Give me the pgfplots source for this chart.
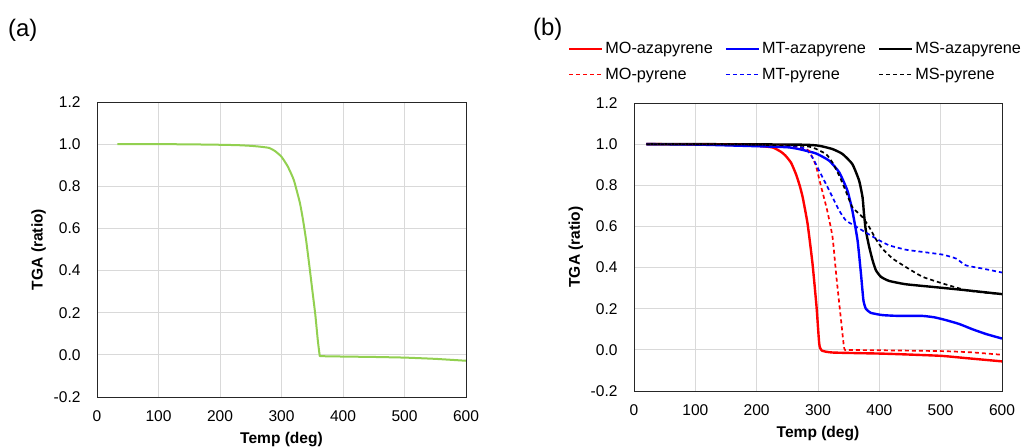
\documentclass[border=0pt]{standalone}
\usepackage{fontspec}
\setmainfont{Liberation Sans}
\usepackage{pgfplots}
\pgfplotsset{compat=1.18}

\definecolor{tgagreen}{HTML}{92D050}

\pgfplotsset{
  tga/.style={
    scale only axis,
    anchor=south west,
    xmin=0, xmax=600, ymin=-0.2, ymax=1.2,
    xtick={0,100,200,300,400,500,600},
    ytick={-0.2,0,0.2,0.4,0.6,0.8,1.0,1.2},
    major tick length=0pt,
    grid=major,
    grid style={black!15, line width=0.9bp},
    axis line style={black!85, line width=0.9bp},
    /pgf/number format/assume math mode=true,
    tick label style={font=\fontsize{15.6}{18}\selectfont},
    yticklabel style={/pgf/number format/.cd, fixed, fixed zerofill, precision=1, /tikz/.cd, anchor=east, xshift=-13bp},
    xticklabel style={yshift=-10.5bp},
    xlabel={Temp (deg)},
    ylabel={TGA (ratio)},
    every axis x label/.style={at={(axis description cs:0.5,0)}, anchor=center, yshift=-43bp,
      font=\fontsize{15.6}{18}\selectfont\bfseries},
    every axis y label/.style={at={(axis description cs:-0.158,0.5)}, anchor=center, rotate=90,
      font=\fontsize{15.6}{18}\selectfont\bfseries},
    every axis plot/.append style={line join=round},
  },
  sol/.style={line width=2.4bp},
  dsh/.style={line width=1.7bp, dash pattern=on 4bp off 3bp},
}

\begin{document}
\begin{tikzpicture}
\path[use as bounding box] (0,0) rectangle (1024bp,447bp);

\node[anchor=west, inner sep=0pt, font=\fontsize{24}{28}\selectfont] at (8bp,417bp) {(a)};
\node[anchor=west, inner sep=0pt, font=\fontsize{24}{28}\selectfont] at (533bp,418bp) {(b)};

% panel (a)
\begin{axis}[tga, at={(97bp,50bp)}, width=369bp, height=295bp]
\addplot[tgagreen, line width=2bp, smooth, tension=0.3] coordinates {
(33,1.0) (100,1.0) (150,0.999) (200,0.997) (230,0.995) (250,0.992) (265,0.988)
(280,0.982) (290,0.966) (300,0.94) (310,0.895) (320,0.83) (330,0.72) (335,0.64)
(340,0.545) (345,0.43) (350,0.31) (355,0.19) (359,0.07) (362,0.0) (364,-0.006)
(400,-0.008) (450,-0.01) (500,-0.013) (550,-0.019) (600,-0.028)
};
\end{axis}

% panel (b)
\begin{axis}[tga, at={(634bp,56bp)}, width=368bp, height=288bp,
  legend columns=3,
  legend style={at={(axis description cs:-0.188,1.225)}, anchor=north west,
    draw=none, fill=none, font=\fontsize{16.3}{19}\selectfont,
    /tikz/every even column/.append style={column sep=10bp},
    row sep=9bp},
  legend cell align=left,
  legend image code/.code={\draw[#1] (0bp,0bp) -- (33bp,0bp);},
]
\addplot[red, sol, smooth, tension=0.3] coordinates {
(20,1.0) (100,0.999) (150,0.997) (200,0.992) (226,0.984) (240,0.962) (247,0.944)
(256,0.91) (264,0.855) (270,0.8) (275,0.742) (283,0.613) (291,0.42) (297.6,0.21)
(302,0.03) (306,-0.003) (324,-0.013) (400,-0.018) (432,-0.021) (500,-0.029)
(541,-0.04) (600,-0.056)
};
\addlegendentry{MO-azapyrene}
\addplot[blue, sol, smooth, tension=0.3] coordinates {
(20,1.0) (100,0.998) (200,0.99) (250,0.985) (269,0.976) (296.5,0.955) (318,0.92)
(334.6,0.863) (348,0.774) (356,0.677) (364.5,0.532) (370,0.371) (374,0.242)
(378,0.2) (386,0.18) (405,0.169) (432,0.165) (470,0.165) (490,0.158) (508,0.145)
(530,0.126) (552,0.1) (574,0.077) (600,0.055)
};
\addlegendentry{MT-azapyrene}
\addplot[black, sol, smooth, tension=0.3] coordinates {
(20,1.0) (100,1.0) (200,0.999) (280,0.997) (302,0.992) (323.7,0.976) (340,0.952)
(356,0.903) (367,0.823) (372.6,0.742) (375,0.661) (378,0.58) (383.5,0.5)
(389,0.435) (394.4,0.387) (402.6,0.355) (416,0.335) (443,0.319) (487,0.306)
(541,0.29) (600,0.271)
};
\addlegendentry{MS-azapyrene}
\addplot[red, dsh, smooth, tension=0.3] coordinates {
(20,1.0) (100,1.0) (200,0.997) (250,0.993) (270,0.985) (285,0.968) (296,0.9)
(304,0.806) (315,0.677) (323.7,0.548) (330,0.355) (337,0.16) (342.7,0.008)
(348,0.0) (400,-0.002) (500,-0.006) (550,-0.012) (600,-0.024)
};
\addlegendentry{MO-pyrene}
\addplot[blue, dsh, smooth, tension=0.3] coordinates {
(20,1.0) (100,0.998) (200,0.993) (260,0.99) (280,0.976) (291,0.935) (302,0.87)
(313,0.806) (323.7,0.742) (334.6,0.677) (345.4,0.629) (359,0.605) (372.6,0.58)
(386,0.556) (400,0.532) (416,0.508) (443,0.487) (470.6,0.476) (503,0.463)
(525,0.444) (541,0.411) (568.5,0.395) (600,0.376)
};
\addlegendentry{MT-pyrene}
\addplot[black, dsh, smooth, tension=0.3] coordinates {
(20,1.0) (100,1.0) (200,0.997) (270,0.993) (291,0.984) (313,0.952) (323.7,0.91)
(334.6,0.847) (345,0.774) (356,0.694) (372.6,0.645) (383.5,0.597) (394,0.54)
(405,0.492) (421.6,0.444) (443,0.403) (470.6,0.355) (503,0.323) (541,0.29)
(568.5,0.279) (600,0.271)
};
\addlegendentry{MS-pyrene}
\end{axis}
\end{tikzpicture}
\end{document}
